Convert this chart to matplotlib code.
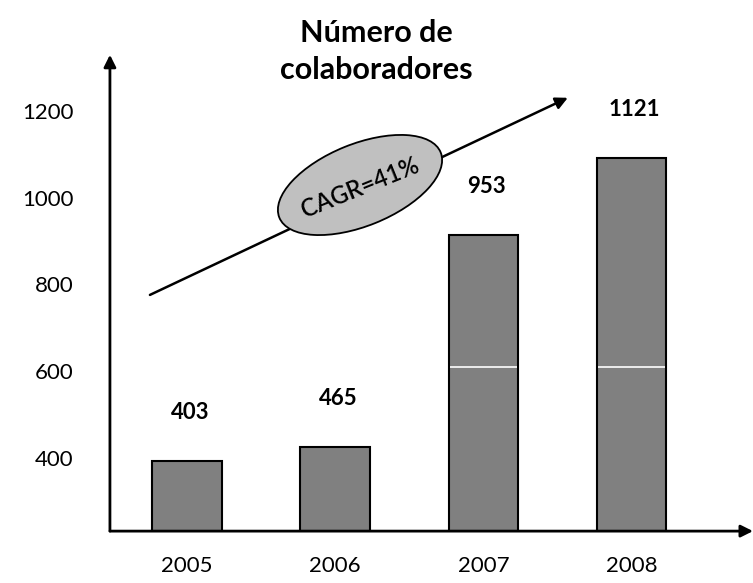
import matplotlib
matplotlib.use("Agg")
import matplotlib.pyplot as plt
from matplotlib.patches import Ellipse

plt.rcParams['font.family'] = ['Lato', 'DejaVu Sans']

# data
years = ['2005', '2006', '2007', '2008']
bar_heights = [393, 425, 914, 1092]
value_labels = ['403', '465', '953', '1121']
split_lines = [None, None, 610, 610]
yticks = [400, 600, 800, 1000, 1200]
cagr_text = 'CAGR=41%'

fig = plt.figure(figsize=(7.53, 5.83), dpi=100)
ax = fig.add_axes([0.146, 0.089, 0.854, 0.817])

x = list(range(len(years)))
ax.bar(x, bar_heights, width=0.47, bottom=0, color='#808080',
       edgecolor='black', linewidth=1.5, zorder=2)

# white separators inside the last two bars
for xi, s in zip(x, split_lines):
    if s is not None:
        ax.hlines(s, xi - 0.225, xi + 0.225, color='white', linewidth=1.2, zorder=3)

# value labels above bars
for xi, h, lab in zip(x, bar_heights, value_labels):
    ax.text(xi + 0.02, h + 112, lab, ha='center', va='center',
            fontsize=16, fontweight='bold')

ax.set_xlim(-0.52, 3.82)
ax.set_ylim(232, 1329)
ax.set_xticks(x)
ax.set_xticklabels(years, fontsize=16)
ax.set_yticks(yticks)
ax.set_yticklabels([str(v) for v in yticks], fontsize=16)
ax.tick_params(axis='both', length=0)
ax.tick_params(axis='y', pad=26)
ax.tick_params(axis='x', pad=18)
for sp in ax.spines.values():
    sp.set_visible(False)

# axes with arrow heads
ax.annotate('', xy=(0, 1.0), xytext=(0, 0), xycoords='axes fraction',
            arrowprops=dict(arrowstyle='-|>', color='black', lw=2,
                            mutation_scale=18, shrinkA=0, shrinkB=0),
            annotation_clip=False)
ax.annotate('', xy=(1.0, 0), xytext=(0, 0), xycoords='axes fraction',
            arrowprops=dict(arrowstyle='-|>', color='black', lw=2,
                            mutation_scale=18, shrinkA=0, shrinkB=0),
            annotation_clip=False)

# growth arrow
ax.annotate('', xy=(2.57, 1230), xytext=(-0.25, 776),
            arrowprops=dict(arrowstyle='-|>', color='black', lw=1.8,
                            mutation_scale=18, shrinkA=0, shrinkB=0))

# CAGR ellipse (drawn in inches so it keeps its shape)
ell = Ellipse((3.60, 3.98), 1.74, 0.82, angle=22, transform=fig.dpi_scale_trans,
              facecolor='#c0c0c0', edgecolor='black', linewidth=1.3, zorder=5)
fig.add_artist(ell)
fig.text(3.60 / 7.53, 3.95 / 5.83, cagr_text, ha='center', va='center',
         rotation=22, rotation_mode='anchor', fontsize=17,
         fontweight='semibold', zorder=6)

fig.text(0.5, 0.912, 'Número de\ncolaboradores', ha='center', va='center',
         fontsize=22, fontweight='bold', linespacing=1.4)

fig.savefig('out.png', dpi=100)
